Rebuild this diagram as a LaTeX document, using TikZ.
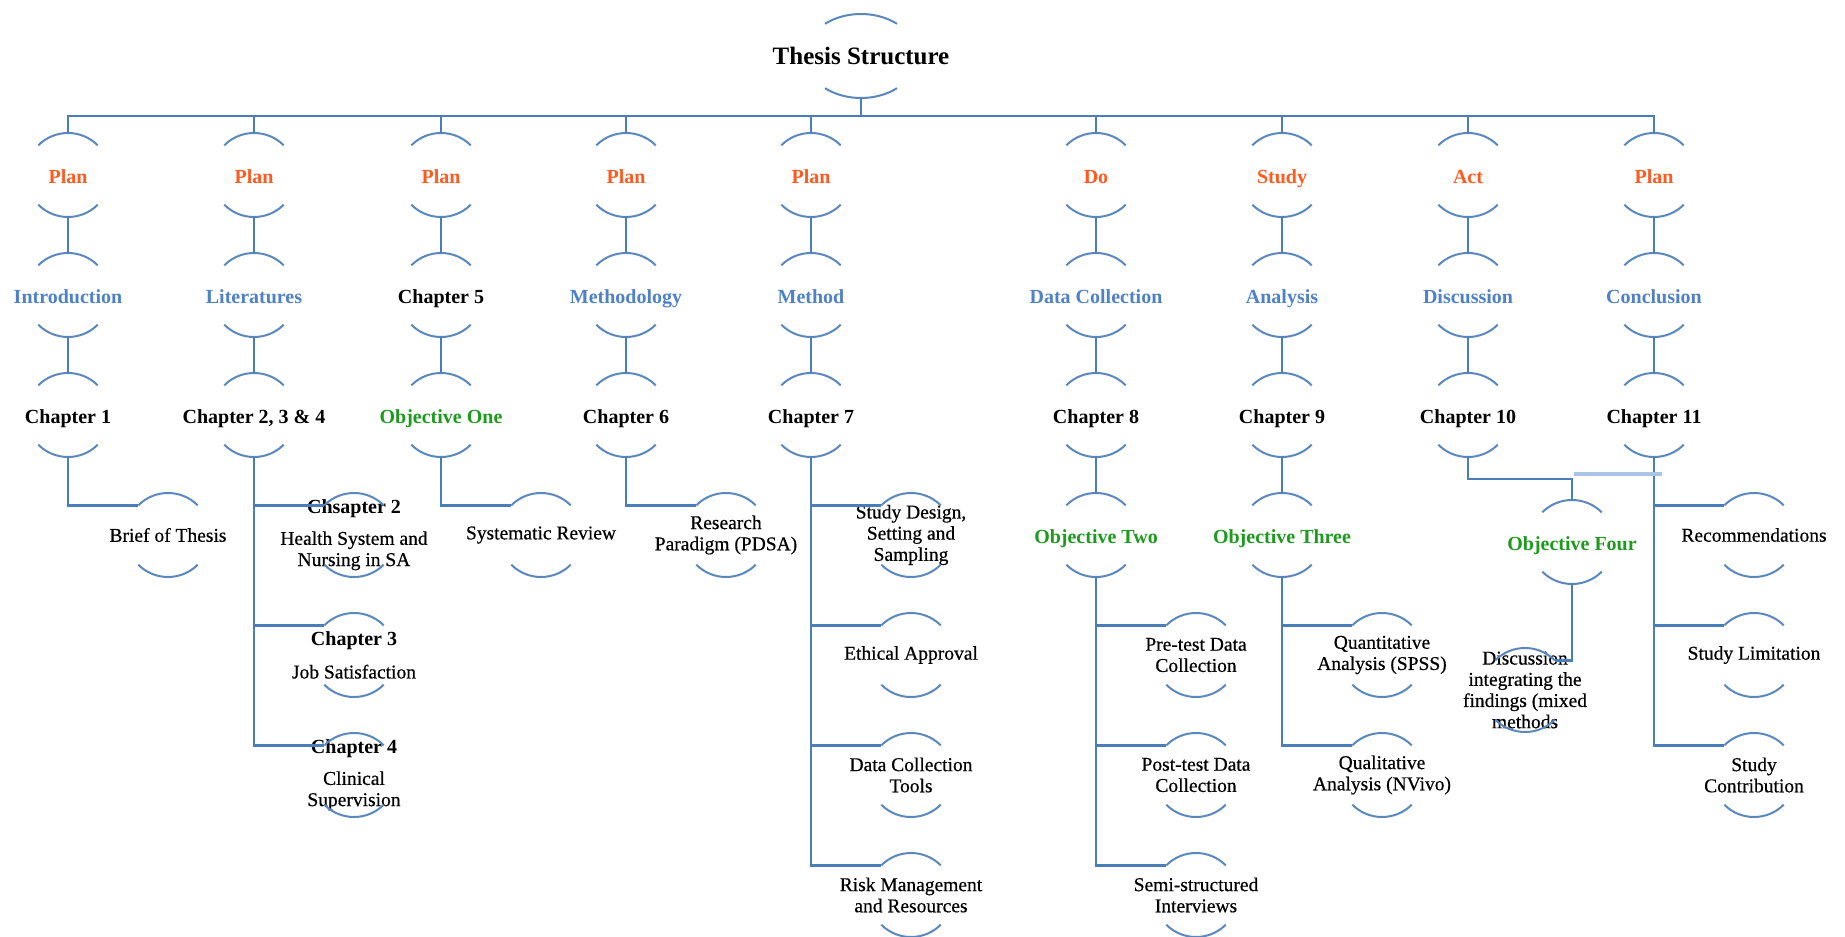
\documentclass[tikz,border=0pt]{standalone}
\usepackage{fontspec}
\setmainfont{Liberation Serif}
\newfontfamily\leaffamily{Liberation Serif}[FakeBold=0.5]
\usetikzlibrary{shapes.geometric}

\definecolor{linkblue}{HTML}{4A7EBB}
\definecolor{arcblue}{HTML}{5A88BE}
\definecolor{phaseorange}{HTML}{FF5A1F}
\definecolor{stageblue}{HTML}{4F81C8}
\definecolor{objgreen}{HTML}{1E9A1E}
\definecolor{strayblue}{HTML}{A9C4E4}

\newcommand\hfont{\normalfont\fontsize{10}{12}\selectfont\bfseries}
\newcommand\lfont{\leaffamily\fontsize{9.75}{10.6}\selectfont}

% a ring node: invisible circle with an upper and a lower arc, text on top
\newcommand\ringnode[4]{%
  \node[ringshape] (#1) at (#2) {};
  \node[#3] at (#1.center) {#4};
  \draw[arcline] (#1.135) arc[start angle=135,end angle=45,radius=21pt];
  \draw[arcline] (#1.225) arc[start angle=225,end angle=315,radius=21pt];
}

\tikzset{
  ringshape/.style={circle,minimum size=42pt,inner sep=0pt,outer sep=0pt},
  arcline/.style={draw=arcblue,line width=1pt},
  link/.style={draw=linkblue,line width=1.2pt},
  stray/.style={draw=strayblue,line width=1.6pt},
  oneline/.style={inner sep=0pt,text height=0.72em,text depth=0.22em,yshift=-1.6pt},
  phase/.style={oneline,font=\hfont,text=phaseorange},
  stage/.style={oneline,font=\hfont,text=stageblue},
  chap/.style={oneline,font=\hfont,text=black},
  obj/.style={oneline,font=\hfont,text=objgreen},
  leaf/.style={inner sep=0pt,align=center,font=\lfont,text=black},
  titletext/.style={oneline,font=\fontsize{12.5}{14}\selectfont\bfseries,text=black},
}

\begin{document}
\begin{tikzpicture}[x=0.5pt,y=-0.5pt]
\useasboundingbox (0,0) rectangle (1845,936);

% title
\node[ellipse,minimum width=56pt,minimum height=42pt,inner sep=0pt,outer sep=0pt] (title) at (861,56) {};
\node[titletext] at (title.center) {Thesis Structure};
\draw[arcline] ([shift={(-18pt,16.09pt)}]title.center) arc[start angle=130,end angle=50,x radius=28pt,y radius=21pt];
\draw[arcline] ([shift={(-18pt,-16.09pt)}]title.center) arc[start angle=230,end angle=310,x radius=28pt,y radius=21pt];

% PDSA phase row
\ringnode{p1}{68,175}{phase}{Plan}
\ringnode{p2}{254,175}{phase}{Plan}
\ringnode{p3}{441,175}{phase}{Plan}
\ringnode{p4}{626,175}{phase}{Plan}
\ringnode{p5}{811,175}{phase}{Plan}
\ringnode{p6}{1096,175}{phase}{Do}
\ringnode{p7}{1282,175}{phase}{Study}
\ringnode{p8}{1468,175}{phase}{Act}
\ringnode{p9}{1654,175}{phase}{Plan}

% stage row
\ringnode{s1}{68,295}{stage}{Introduction}
\ringnode{s2}{254,295}{stage}{Literatures}
\ringnode{s3}{441,295}{chap}{Chapter 5}
\ringnode{s4}{626,295}{stage}{Methodology}
\ringnode{s5}{811,295}{stage}{Method}
\ringnode{s6}{1096,295}{stage}{Data Collection}
\ringnode{s7}{1282,295}{stage}{Analysis}
\ringnode{s8}{1468,295}{stage}{Discussion}
\ringnode{s9}{1654,295}{stage}{Conclusion}

% chapter row
\ringnode{c1}{68,415}{chap}{Chapter 1}
\ringnode{c2}{254,415}{chap}{Chapter 2, 3 \& 4}
\ringnode{c3}{441,415}{obj}{Objective One}
\ringnode{c4}{626,415}{chap}{Chapter 6}
\ringnode{c5}{811,415}{chap}{Chapter 7}
\ringnode{c6}{1096,415}{chap}{Chapter 8}
\ringnode{c7}{1282,415}{chap}{Chapter 9}
\ringnode{c8}{1468,415}{chap}{Chapter 10}
\ringnode{c9}{1654,415}{chap}{Chapter 11}

% contents
\ringnode{brief}{168,535}{leaf}{Brief of Thesis}
\ringnode{chtwo}{354,535}{leaf}{{\hfont Chsapter 2}\\[5pt]Health System and\\Nursing in SA}
\ringnode{chthree}{354,655}{leaf}{{\hfont Chapter 3}\\[6pt]Job Satisfaction}
\ringnode{chfour}{354,775}{leaf}{{\hfont Chapter 4}\\[5pt]Clinical\\Supervision}
\ringnode{sysrev}{541,535}{leaf}{Systematic Review}
\ringnode{paradigm}{726,535}{leaf}{Research\\Paradigm (PDSA)}
\ringnode{design}{911,535}{leaf}{Study Design,\\Setting and\\Sampling}
\ringnode{ethics}{911,655}{leaf}{Ethical Approval}
\ringnode{tools}{911,775}{leaf}{Data Collection\\Tools}
\ringnode{risk}{911,895}{leaf}{Risk Management\\and Resources}
\ringnode{objtwo}{1096,535}{obj}{Objective Two}
\ringnode{pretest}{1196,655}{leaf}{Pre-test Data\\Collection}
\ringnode{posttest}{1196,775}{leaf}{Post-test Data\\Collection}
\ringnode{semi}{1196,895}{leaf}{Semi-structured\\Interviews}
\ringnode{objthree}{1282,535}{obj}{Objective Three}
\ringnode{quant}{1382,655}{leaf}{Quantitative\\Analysis (SPSS)}
\ringnode{qual}{1382,775}{leaf}{Qualitative\\Analysis (NVivo)}
\ringnode{objfour}{1572,542}{obj}{Objective Four}
\ringnode{integr}{1525,690}{leaf}{Discussion\\integrating the\\findings (mixed\\methods}
\ringnode{recom}{1754,535}{leaf}{Recommendations}
\ringnode{limit}{1754,655}{leaf}{Study Limitation}
\ringnode{contrib}{1754,775}{leaf}{Study\\Contribution}

% bus under the title
\coordinate (bus) at (861,116);
\draw[link] (title.south) -- (bus);
\draw[link] (p1.north) |- (bus) -| (p9.north);
\foreach \k in {2,...,8} \draw[link] (p\k.north) -- (p\k.north |- bus);

% vertical chains
\foreach \k in {1,...,9} {
  \draw[link] (p\k.south) -- (s\k.north);
  \draw[link] (s\k.south) -- (c\k.north);
}

% branches
\draw[link] (c1.south) |- (brief.135);
\draw[link] (c2.south) |- (chtwo.135);
\draw[link] (c2.south) |- (chthree.135);
\draw[link] (c2.south) |- (chfour.135);
\draw[link] (c3.south) |- (sysrev.135);
\draw[link] (c4.south) |- (paradigm.135);
\draw[link] (c5.south) |- (design.135);
\draw[link] (c5.south) |- (ethics.135);
\draw[link] (c5.south) |- (tools.135);
\draw[link] (c5.south) |- (risk.135);
\draw[link] (c6.south) -- (objtwo.north);
\draw[link] (objtwo.south) |- (pretest.135);
\draw[link] (objtwo.south) |- (posttest.135);
\draw[link] (objtwo.south) |- (semi.135);
\draw[link] (c7.south) -- (objthree.north);
\draw[link] (objthree.south) |- (quant.135);
\draw[link] (objthree.south) |- (qual.135);
\coordinate (e8) at (1468,479);
\draw[link] (c8.south) -- (e8) -| (objfour.north);
\draw[link] (objfour.south) |- (integr.45);
\draw[link] (c9.south) |- (recom.135);
\draw[link] (c9.south) |- (limit.135);
\draw[link] (c9.south) |- (contrib.135);

% faint stroke beside chapter 11
\coordinate (f1) at (1574,474);
\coordinate (f2) at (1662,474);
\draw[stray] (f1) -- (f2);
\end{tikzpicture}
\end{document}
